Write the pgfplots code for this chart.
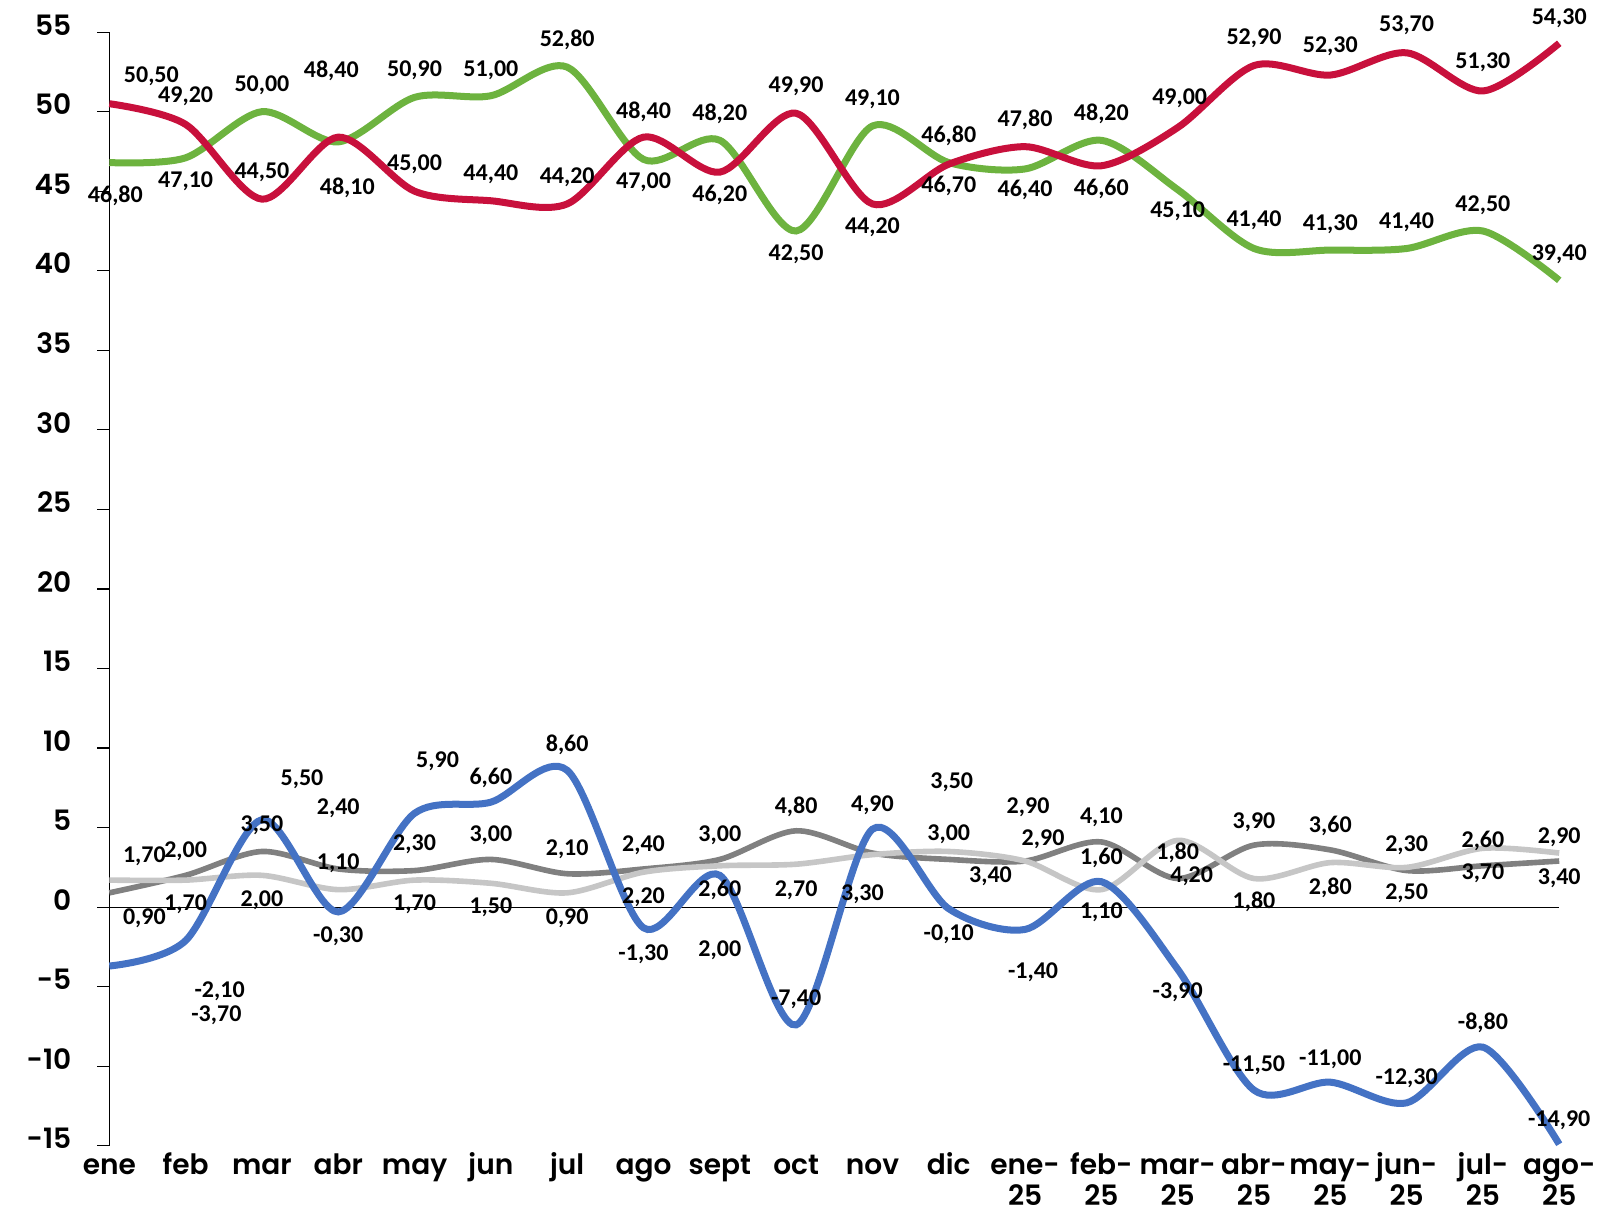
\documentclass[border={10pt 0.5pt 0pt 4pt}]{standalone}
\usepackage{fontspec}
\usepackage{pgfplots}
\usepackage{pgfplotstable}
\pgfplotsset{compat=1.18}
\newfontfamily\tickfont{Poppins}[BoldFont={Poppins SemiBold}]
\newfontfamily\labfont{Carlito}
\definecolor{cred}{HTML}{C8103C}
\definecolor{cgreen}{HTML}{6DB33F}
\definecolor{cblue}{HTML}{4472C4}
\definecolor{cdgray}{HTML}{808080}
\definecolor{clgray}{HTML}{C6C6C6}

\pgfplotstableread{
x y dx dy
0 50.5 21 13.5
1 49.2 0 14
2 44.5 0 13.5
3 48.4 -3.5 33
4 45.0 0 13.5
5 44.4 0 13
6 44.2 0 13.5
7 48.4 0 12.5
8 46.2 0 -11.5
9 49.9 0 13.5
10 44.2 0 -11.5
11 46.7 0 -11
12 47.8 0 13.5
13 46.6 0 -11.5
14 49.0 1 14.5
15 52.9 0 13.5
16 52.3 0 14.5
17 53.7 0 14
18 51.3 0 14.5
19 54.3 0 12.5
}\redtbl

\pgfplotstableread{
x y dx dy
0 46.8 3 -16.5
1 47.1 0 -11.5
2 50.0 0 13
3 48.1 4.5 -23
4 50.9 0 13.5
5 51.0 0 12.5
6 52.8 0 13.5
7 47.0 0 -11.5
8 48.2 0 13
9 42.5 0 -11.5
10 49.1 0 13.5
11 46.8 0 13.5
12 46.4 0 -10.5
13 48.2 0 13
14 45.1 0 -11
15 41.4 0 14
16 41.3 0 13
17 41.4 0 13
18 42.5 0 13
19 39.4 0 13
}\greentbl

\pgfplotstableread{
x y dx dy
0 -3.7 53.5 -24.5
1 -2.1 17 -25.5
2 5.5 20 20
3 -0.3 0 -12
4 5.9 11.5 26
5 6.6 0 12
6 8.6 0 12.5
7 -1.3 0 -13
8 2.0 0 -37.5
9 -7.4 0 13
10 4.9 0 12
11 -0.1 0 -12.5
12 -1.4 4 -21.5
13 1.6 0 12
14 -3.9 0 -11.5
15 -11.5 0 12.5
16 -11.0 0 11.5
17 -12.3 0 12.5
18 -8.8 0 12
19 -14.9 0 12
}\bluetbl

\pgfplotstableread{
x y dx dy
0 0.9 17.5 -12.5
1 2.0 0 12
2 3.5 0 13
3 2.4 0 30.5
4 2.3 0 13
5 3.0 0 12
6 2.1 0 12
7 2.4 0 12
8 3.0 0 12
9 4.8 0 12
10 3.4 59 -11.5
11 3.0 0 12.5
12 2.9 9 11
13 4.1 0 12.5
14 1.8 0 13
15 3.9 0 11.5
16 3.6 0 12
17 2.3 0 12.5
18 2.6 0 12.5
19 2.9 0 12
}\dgraytbl

\pgfplotstableread{
x y dx dy
0 1.7 17.5 12
1 1.7 0 -12
2 2.0 0 -12.5
3 1.1 0 13
4 1.7 0 -12
5 1.5 0 -12
6 0.9 0 -12.5
7 2.2 0 -12.5
8 2.6 0 -12
9 2.7 0 -13
10 3.3 -5 -20
11 3.5 1.5 34.5
12 2.9 1.5 27
13 1.1 0 -11.5
14 4.2 7 -18
15 1.8 0 -11.5
16 2.8 0 -12.5
17 2.5 0 -13
18 3.7 0 -12.5
19 3.4 0 -12.5
}\lgraytbl

\pgfplotsset{
  lab/.style={
    smooth, no markers,
    visualization depends on={\thisrow{dx}\as\labdx},
    visualization depends on={\thisrow{dy}\as\labdy},
    nodes near coords={\pgfmathprintnumber[fixed,fixed zerofill,precision=2,use comma,assume math mode=true]{\pgfplotspointmeta}},
    nodes near coords style={anchor=center, inner sep=0pt, text=black,
      font=\labfont\bfseries\fontsize{12}{12}\selectfont,
      xshift=\labdx pt, yshift=\labdy pt},
  }
}

\begin{document}
\begin{tikzpicture}
\begin{axis}[
  scale only axis, width=724.5pt, height=556.5pt,
  xmin=0, xmax=19, ymin=-15, ymax=55,
  clip=false,
  axis y line*=left, axis x line*=bottom,
  x axis line style={draw=none},
  y axis line style={black, line width=0.6pt},
  ytick={-15,-10,...,55},
  tick align=outside,
  major tick length=6pt,
  ytick style={black, line width=0.6pt},
  xtick style={draw=none},
  yticklabel style={font=\tickfont\bfseries\fontsize{14}{14}\selectfont, xshift=-9.5pt, yshift=1.5pt},
  /pgf/number format/assume math mode=true,
  xtick={0,...,19},
  typeset ticklabels with strut,
  xticklabels={ene,feb,mar,abr,may,jun,jul,ago,sept,oct,nov,dic,{ene-\\25},{feb-\\25},{mar-\\25},{abr-\\25},{may-\\25},{jun-\\25},{jul-\\25},{ago-\\25}},
  xticklabel style={align=center, font=\tickfont\bfseries\fontsize{14}{15.5}\selectfont, yshift=6pt},
]
\addplot[black, line width=0.6pt, forget plot] coordinates {(0,0) (19,0)};
\addplot[lab, cgreen, line width=3.5pt] table[x=x,y=y] {\greentbl};
\addplot[lab, cred, line width=3.5pt] table[x=x,y=y] {\redtbl};
\addplot[lab, cdgray, line width=2.8pt] table[x=x,y=y] {\dgraytbl};
\addplot[lab, clgray, line width=2.8pt] table[x=x,y=y] {\lgraytbl};
\addplot[lab, cblue, line width=3.5pt] table[x=x,y=y] {\bluetbl};
\end{axis}
\end{tikzpicture}
\end{document}
